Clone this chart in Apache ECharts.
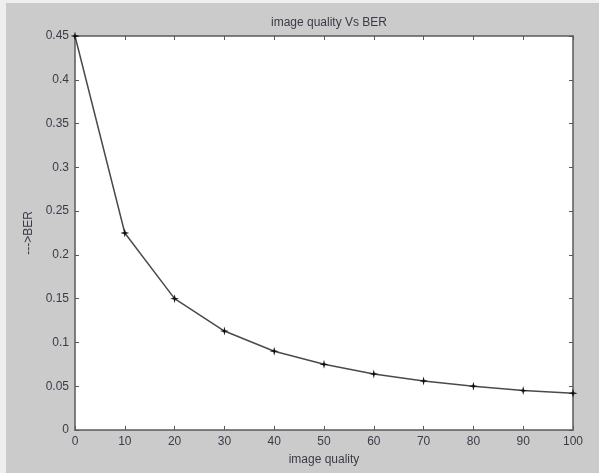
<!DOCTYPE html>
<html>
<head>
<meta charset="utf-8">
<script src="https://cdn.jsdelivr.net/npm/echarts@6/dist/echarts.min.js"></script>
<style>
  html, body { margin: 0; padding: 0; background: #efefef; }
  #main { position: absolute; left: 6px; top: 3px; width: 593px; height: 470px; }
</style>
</head>
<body>
<div id="main"></div>
<script>
// image quality vs bit error rate
var quality = [0, 10, 20, 30, 40, 50, 60, 70, 80, 90, 100];
var ber = [0.45, 0.225, 0.15, 0.113, 0.09, 0.075, 0.064, 0.056, 0.05, 0.045, 0.042];

var chart = echarts.init(document.getElementById('main'));

var labelColor = '#3b3b48';
var lineColor = '#5a5a5a';

// star marker like matlab '*'
var star = 'path://M0,-5 L1,-1 L5,0 L1,1 L0,5 L-1,1 L-5,0 L-1,-1 Z';

var points = [];
for (var i = 0; i < quality.length; i++) {
    points.push([quality[i], ber[i]]);
}

var tickStyle = { show: true, inside: true, length: 4, lineStyle: { color: lineColor } };
var lineStyleAxis = { show: true, onZero: false, lineStyle: { color: lineColor, width: 1.5 } };

var option = {
    backgroundColor: '#cbcbcb',
    animation: false,
    title: {
        text: 'image quality Vs BER',
        left: 318,
        top: 9,
        textAlign: 'center',
        textStyle: {
            color: labelColor,
            fontFamily: 'Liberation Sans',
            fontSize: 12,
            fontWeight: 'normal'
        }
    },
    grid: {
        left: 69,
        right: 26,
        top: 33,
        bottom: 43,
        show: true,
        backgroundColor: '#ffffff',
        borderWidth: 0
    },
    xAxis: [{
        type: 'value',
        min: 0,
        max: 100,
        interval: 10,
        name: 'image quality',
        nameLocation: 'middle',
        nameGap: 24,
        nameTextStyle: { color: labelColor, fontFamily: 'Liberation Sans', fontSize: 12 },
        axisLine: lineStyleAxis,
        axisTick: tickStyle,
        axisLabel: { color: labelColor, fontFamily: 'Liberation Sans', fontSize: 12, margin: 6 },
        splitLine: { show: false }
    }, {
        type: 'value',
        position: 'top',
        min: 0,
        max: 100,
        interval: 10,
        axisLine: lineStyleAxis,
        axisTick: tickStyle,
        axisLabel: { show: false },
        splitLine: { show: false }
    }],
    yAxis: [{
        type: 'value',
        min: 0,
        max: 0.45,
        interval: 0.05,
        name: '--->BER',
        nameLocation: 'middle',
        nameGap: 38,
        nameTextStyle: { color: labelColor, fontFamily: 'Liberation Sans', fontSize: 12 },
        axisLine: lineStyleAxis,
        axisTick: tickStyle,
        axisLabel: { color: labelColor, fontFamily: 'Liberation Sans', fontSize: 12, margin: 6 },
        splitLine: { show: false }
    }, {
        type: 'value',
        position: 'right',
        min: 0,
        max: 0.45,
        interval: 0.05,
        axisLine: lineStyleAxis,
        axisTick: tickStyle,
        axisLabel: { show: false },
        splitLine: { show: false }
    }],
    series: [{
        type: 'line',
        data: points,
        symbol: star,
        symbolSize: 9,
        showAllSymbol: true,
        itemStyle: { color: '#111111' },
        lineStyle: { color: '#4a4a4a', width: 1.5 }
    }]
};

chart.setOption(option);
</script>
</body>
</html>
